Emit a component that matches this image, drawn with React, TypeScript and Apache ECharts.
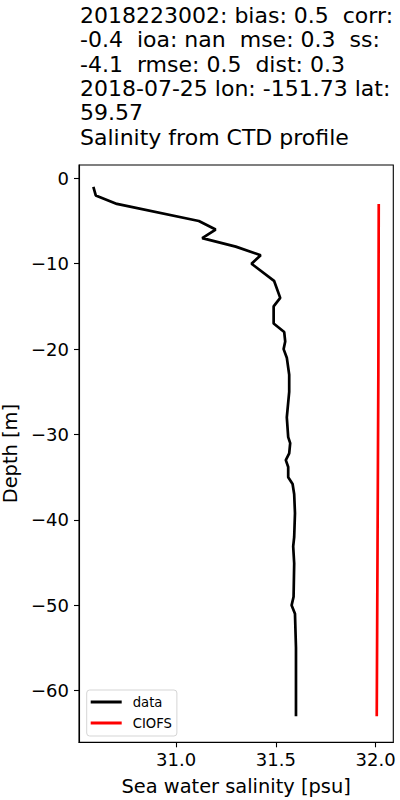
import React, { useEffect, useRef } from "react";
import * as echarts from "echarts";

const titleLines = [
  "2018223002: bias: 0.5  corr:",
  "-0.4  ioa: nan  mse: 0.3  ss:",
  "-4.1  rmse: 0.5  dist: 0.3",
  "2018-07-25 lon: -151.73 lat:",
  "59.57",
  "Salinity from CTD profile",
];

const dataDepth = [
  -1, -2, -3, -5, -6, -7, -8, -9, -10, -12, -14, -15, -17, -18, -19.1, -20, -21, -23, -25,
  -28, -30.3, -31, -32.2, -33, -33.8, -35, -35.8, -37, -39.2, -42, -43.1, -45.1, -49, -50,
  -51, -55, -63,
];
const dataSalinity = [
  30.585, 30.597, 30.703, 31.114, 31.198, 31.131, 31.299, 31.424, 31.378, 31.491, 31.522,
  31.489, 31.489, 31.542, 31.547, 31.539, 31.555, 31.567, 31.567, 31.555, 31.562, 31.572,
  31.567, 31.55, 31.562, 31.562, 31.584, 31.592, 31.596, 31.592, 31.587, 31.592, 31.589,
  31.579, 31.596, 31.601, 31.601,
];

const modelDepth = [-3, -13, -23, -33, -43, -53, -63];
const modelSalinity = [32.016, 32.015, 32.014, 32.012, 32.010, 32.008, 32.006];

const xTicks = [31.0, 31.5, 32.0];
const yTicks = [0, -10, -20, -30, -40, -50, -60];

const FONT = "DejaVu Sans";

export default function App() {
  const ref = useRef<HTMLDivElement>(null);
  useEffect(() => {
    document.body.style.margin = "0";
    if (!ref.current) return;
    const chart = echarts.init(ref.current, null, { renderer: "svg" });
    const dataPts = dataDepth.map((d, i) => [dataSalinity[i], d]);
    const modelPts = modelDepth.map((d, i) => [modelSalinity[i], d]);
    chart.setOption({
      animation: false,
      backgroundColor: "#fff",
      title: {
        text: titleLines.join("\n"),
        left: 80,
        top: 3,
        padding: 0,
        textStyle: {
          fontFamily: FONT,
          fontSize: 22,
          lineHeight: 24.4,
          fontWeight: "normal",
          color: "#000",
        },
      },
      legend: {
        orient: "vertical",
        left: 86.7,
        top: 690,
        padding: [5, 5, 6, 4],
        itemWidth: 31,
        itemHeight: 3,
        itemGap: 7,
        icon: "rect",
        borderColor: "#d5d5d5",
        borderWidth: 1,
        borderRadius: 3,
        backgroundColor: "rgba(255,255,255,0.8)",
        textStyle: {
          fontFamily: FONT,
          fontSize: 13.2,
          lineHeight: 14,
          color: "#000",
          padding: [0, 0, 0, 6],
        },
        data: ["data", "CIOFS"],
      },
      grid: {
        left: 79,
        right: 6.7,
        top: 165,
        bottom: 57.7,
        show: true,
        borderColor: "#000",
        borderWidth: 1.1,
        containLabel: false,
        outerBoundsMode: "none",
      },
      xAxis: {
        type: "value",
        min: 30.513,
        max: 32.089,
        name: "Sea water salinity [psu]",
        nameLocation: "middle",
        nameGap: 35,
        nameTextStyle: { fontFamily: FONT, fontSize: 19.4, color: "#000" },
        splitLine: { show: false },
        axisLine: { show: true, onZero: false, lineStyle: { color: "#000", width: 1.1 } },
        axisTick: {
          show: true,
          inside: false,
          length: 5,
          lineStyle: { color: "#000", width: 1.1 },
          customValues: xTicks,
        },
        axisLabel: {
          customValues: xTicks,
          margin: 8,
          fontFamily: FONT,
          fontSize: 18,
          color: "#000",
          formatter: (v: number) => v.toFixed(1),
        },
      },
      yAxis: {
        type: "value",
        min: -66.04,
        max: 1.56,
        name: "Depth [m]",
        nameLocation: "middle",
        nameGap: 58,
        nameRotate: 90,
        nameTextStyle: { fontFamily: FONT, fontSize: 19.4, color: "#000" },
        splitLine: { show: false },
        axisLine: { show: true, onZero: false, lineStyle: { color: "#000", width: 1.1 } },
        axisTick: {
          show: true,
          inside: false,
          length: 5,
          lineStyle: { color: "#000", width: 1.1 },
          customValues: yTicks,
        },
        axisLabel: {
          customValues: yTicks,
          margin: 10,
          fontFamily: FONT,
          fontSize: 18,
          color: "#000",
          formatter: (v: number) => (v < 0 ? "\u2212" + Math.abs(v) : String(v)),
        },
      },
      series: [
        {
          name: "data",
          type: "line",
          data: dataPts,
          showSymbol: false,
          symbol: "none",
          color: "#000",
          lineStyle: { color: "#000", width: 2.7 },
        },
        {
          name: "CIOFS",
          type: "line",
          data: modelPts,
          showSymbol: false,
          symbol: "none",
          color: "#ff0000",
          lineStyle: { color: "#ff0000", width: 2.7 },
        },
      ],
    });
    return () => chart.dispose();
  }, []);
  return <div ref={ref} style={{ width: 400, height: 800 }} />;
}
